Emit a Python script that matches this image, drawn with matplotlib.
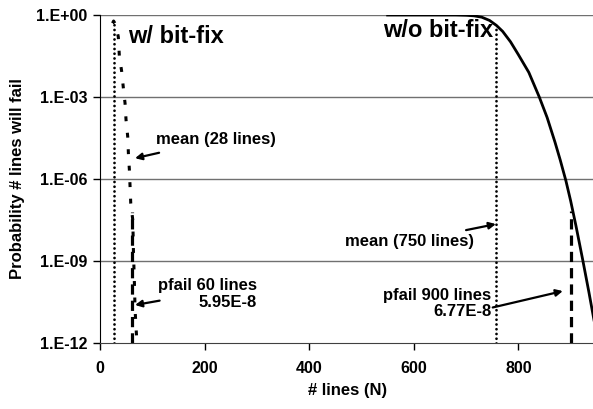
import numpy as np
import matplotlib
matplotlib.use("Agg")
import matplotlib.pyplot as plt
from matplotlib.ticker import FixedLocator, FuncFormatter

plt.rcParams["font.family"] = ["Liberation Sans", "DejaVu Sans"]
plt.rcParams["font.weight"] = "bold"

# ── data ─────────────────────────────────────────────────────────────────────
# w/o bit-fix: probability that N lines fail (solid curve)
nofix_n    = [550, 680, 700, 715, 730, 745, 758, 770, 785, 800, 820, 840, 855, 870,
              880, 891, 900, 910, 923, 935, 945]
nofix_logp = [0, 0, -0.01, -0.03, -0.08, -0.2, -0.38, -0.6, -0.98, -1.45, -2.1, -3.0,
              -3.75, -4.65, -5.3, -6.07, -6.8, -7.7, -8.95, -10.15, -11.2]

# w/ bit-fix (dashed curve)
fix_n    = [24, 26, 30, 35, 37, 41.5, 44.7, 47.9, 49.8, 53, 54.3, 56.2, 57.5, 58.8,
            62.7, 63.9, 65.8, 67.1, 70.3, 71]
fix_logp = [-0.3, -0.22, -0.35, -0.8, -1.5, -2.07, -2.68, -3.23, -3.84, -4.45, -5.06,
            -5.67, -6.28, -6.89, -7.5, -8.6, -9.82, -10.8, -11.9, -12]

# mean markers (dotted) and pfail markers (dashed)
mean_n    = [26, 758]
mean_top  = [10 ** -0.22, 10 ** -0.43]
pfail_n   = [62, 900]
pfail_val = [5.95e-8, 6.77e-8]

ytick_vals = [1e0, 1e-3, 1e-6, 1e-9, 1e-12]
xtick_vals = [0, 200, 400, 600, 800]

# ── figure ───────────────────────────────────────────────────────────────────
fig = plt.figure(figsize=(5.93, 4.09), dpi=100)
ax = fig.add_axes([100 / 593, 1 - 343 / 409, 1 - 100 / 593 + 0.002, (343 - 15) / 409])
ax.set_yscale("log")
ax.set_xlim(0, 945)
ax.set_ylim(1e-12, 1)

# grid lines at every 3 decades
for yv in ytick_vals[:-1]:
    ax.axhline(yv, color="#707070", lw=1.0, zorder=1)

# curves
ax.plot(nofix_n, [10 ** v for v in nofix_logp], color="black", lw=2.0, zorder=3,
        solid_joinstyle="round")
fx, = ax.plot(fix_n, [10 ** v for v in fix_logp], color="black", lw=2.2, zorder=3)
fx.set_dashes((1.6, 3.8))

# vertical markers
for xn, top in zip(mean_n, mean_top):
    ln, = ax.plot([xn, xn], [1e-12, top], color="black", lw=2.0, zorder=2,
                  dash_capstyle="round")
    ln.set_dashes((0.01, 1.7))
for xn, top in zip(pfail_n, pfail_val):
    ln, = ax.plot([xn, xn], [1e-12, top], color="black", lw=2.3, zorder=2)
    ln.set_dashes((3.2, 1.9))

# ── labels ───────────────────────────────────────────────────────────────────
ax.text(53, 10 ** -1.01, "w/ bit-fix", fontsize=17, fontweight="bold", ha="left", va="baseline")
ax.text(751, 10 ** -0.79, "w/o bit-fix", fontsize=17, fontweight="bold", ha="right", va="baseline")

ax.text(108, 10 ** -4.57, "mean (28 lines)", fontsize=12, ha="left", va="center")
ax.text(300, 10 ** -10.21, "pfail 60 lines\n5.95E-8", fontsize=12, ha="right", va="center",
        multialignment="right", linespacing=1.1)
ax.text(716, 10 ** -8.29, "mean (750 lines)", fontsize=12, ha="right", va="center")
ax.text(748, 10 ** -10.56, "pfail 900 lines\n6.77E-8", fontsize=12, ha="right", va="center",
        multialignment="right", linespacing=1.1)

arrows = [((113, -5.04), (67, -5.24)),
          ((114, -10.45), (67, -10.61)),
          ((700, -7.87), (757, -7.65)),
          ((751, -10.7), (885, -10.1))]
for (tx, ty), (hx, hy) in arrows:
    ax.annotate("", xy=(hx, 10 ** hy), xytext=(tx, 10 ** ty),
                arrowprops=dict(arrowstyle="-|>", color="black", lw=1.6,
                                mutation_scale=10, shrinkA=0, shrinkB=0))

# ── axes styling ─────────────────────────────────────────────────────────────
ax.yaxis.set_major_locator(FixedLocator(ytick_vals))
ax.yaxis.set_minor_locator(FixedLocator([]))
ax.yaxis.set_major_formatter(FuncFormatter(lambda v, p: "1.E%+03d" % round(np.log10(v))))
ax.xaxis.set_major_locator(FixedLocator(xtick_vals))

ax.tick_params(axis="both", direction="out", length=5, width=1, labelsize=11.5, pad=4)
ax.tick_params(axis="x", pad=8)
for lab in ax.get_xticklabels() + ax.get_yticklabels():
    lab.set_fontweight("bold")

ax.spines["top"].set_visible(False)
ax.spines["right"].set_visible(False)
ax.spines["left"].set_color("black")
ax.spines["bottom"].set_color("#404040")

ax.set_xlabel("# lines (N)", fontsize=12, fontweight="bold", labelpad=5)
ax.set_ylabel("Probability # lines will fail", fontsize=12, fontweight="bold", labelpad=8)

fig.savefig("out.png", dpi=100)
